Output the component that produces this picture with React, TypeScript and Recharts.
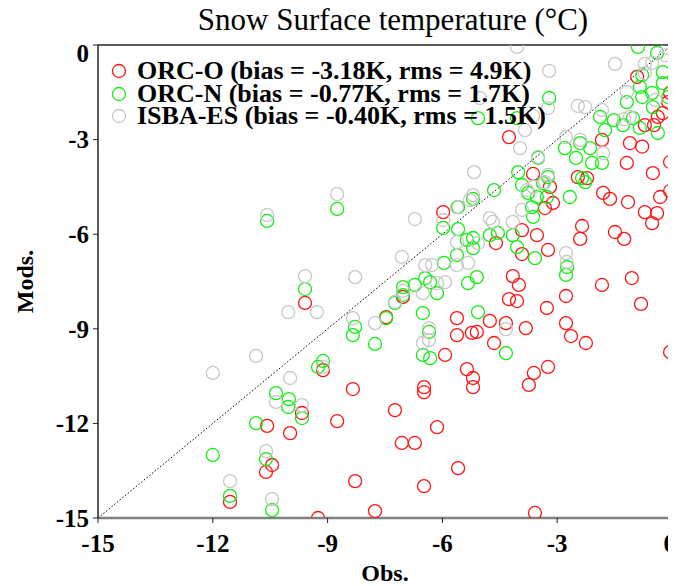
import { ScatterChart, Scatter, XAxis, YAxis, ReferenceLine, Legend } from "recharts";

const FONT = '"Liberation Serif", "Times New Roman", serif';

const axisTicks = [-15, -12, -9, -6, -3, 0];

const seriesNames = [
  "ORC-O (bias = -3.18K, rms = 4.9K)",
  "ORC-N (bias = -0.77K, rms = 1.7K)",
  "ISBA-ES (bias = -0.40K, rms = 1.5K)",
];
const seriesColors = ["#ff1414", "#14ee14", "#c8c8c8"];

// [obs, model] pairs
const orcO: [number, number][] = [
  [-5.98, -5.3], [-9.59, -8.18], [-7.03, -7.99], [-5.62, -8.66], [-5.62, -9.2], [-5.23, -9.13],
  [-5.1, -9.1], [-5.93, -9.83], [-7.47, -8.63], [-9.12, -10.31], [-9.67, -11.67], [-9.98, -12.31],
  [-8.75, -11.93], [-8.34, -10.91], [-7.24, -11.58], [-7.06, -12.62], [-6.72, -12.62], [-6.48, -10.85],
  [-6.48, -11.01], [-6.14, -12.12], [-5.36, -10.28], [-5.2, -10.56], [-5.2, -10.85], [-5.59, -13.42],
  [-8.28, -13.83], [-6.48, -13.99], [-7.76, -14.78], [-9.25, -15.0], [-10.58, -12.08], [-10.45, -13.32],
  [-10.61, -13.54], [-11.55, -14.49], [-4.16, -7.33], [-4.0, -7.61], [-1.83, -7.61], [-1.05, -7.39],
  [-0.81, -8.21], [-4.26, -8.06], [-4.05, -8.12], [-3.27, -8.34], [-2.77, -7.96], [-4.76, -8.75],
  [-4.34, -8.82], [-3.82, -8.98], [-2.77, -8.82], [-2.64, -9.23], [-2.25, -9.45], [-4.65, -9.45],
  [-0.05, -9.74], [-3.61, -10.4], [-3.24, -10.21], [-3.74, -10.78], [-3.58, -14.84], [-0.91, -1.01],
  [-0.05, -1.52], [-0.1, -1.81], [-0.71, -2.54], [-0.37, -2.28], [-0.24, -2.16], [-0.47, -2.54],
  [-4.26, -2.92], [-1.83, -3.01], [-1.1, -3.11], [-0.78, -3.22], [-1.18, -3.74], [-0.5, -4.06],
  [-0.05, -3.71], [-0.05, -4.63], [-3.63, -4.09], [-3.19, -4.5], [-3.11, -5.01], [-3.32, -5.17],
  [-2.46, -4.19], [-2.22, -4.22], [-1.8, -4.69], [-1.62, -4.88], [-1.15, -4.98], [-0.31, -4.82],
  [-0.71, -5.3], [-0.39, -5.33], [-0.52, -5.65], [-2.35, -5.74], [-2.4, -6.15], [-1.49, -5.93],
  [-1.25, -6.15], [-4.6, -6.28], [-3.92, -5.87], [-3.53, -6.03], [-3.92, -6.63], [-3.24, -6.5],
];

const orcN: [number, number][] = [
  [-10.58, -5.58], [-8.75, -5.2], [-5.59, -5.14], [-5.2, -4.88], [-5.98, -5.8], [-5.59, -5.84],
  [-5.36, -6.18], [-5.2, -6.12], [-5.2, -6.44], [-5.62, -6.66], [-5.96, -6.91], [-6.45, -7.39],
  [-5.1, -7.36], [-9.59, -7.74], [-7.03, -7.68], [-6.72, -7.61], [-6.32, -7.52], [-5.33, -7.55],
  [-7.03, -7.93], [-7.24, -8.18], [-6.14, -7.87], [-6.51, -8.5], [-6.35, -9.1], [-6.51, -9.83],
  [-6.32, -9.93], [-8.28, -8.94], [-8.34, -9.2], [-7.47, -8.66], [-7.76, -9.48], [-9.12, -10.02],
  [-9.25, -10.21], [-10.01, -11.23], [-10.03, -11.48], [-9.67, -11.83], [-5.07, -8.47], [-10.35, -11.04],
  [-10.87, -11.99], [-12.0, -13.0], [-10.61, -13.13], [-11.55, -14.3], [-10.45, -14.75], [-2.77, -7.29],
  [-4.34, -9.77], [-0.89, -0.06], [-0.39, -0.25], [-0.78, -0.95], [-0.24, -0.86], [-0.24, -1.21],
  [-0.84, -1.33], [-0.78, -1.65], [-1.18, -1.81], [-0.52, -1.52], [-0.5, -1.97], [-0.1, -1.65],
  [-3.21, -1.68], [-5.07, -2.32], [-4.05, -2.32], [-1.88, -2.28], [-1.52, -2.38], [-1.75, -2.7],
  [-1.28, -2.54], [-1.02, -2.32], [-0.84, -2.63], [-0.37, -2.79], [-2.8, -3.27], [-2.4, -3.11],
  [-2.14, -3.27], [-2.51, -3.58], [-2.09, -3.74], [-1.83, -3.74], [-3.5, -3.58], [-4.02, -4.03],
  [-3.24, -4.19], [-3.37, -4.38], [-3.92, -4.44], [-3.76, -4.69], [-3.53, -4.82], [-3.27, -4.82],
  [-3.66, -5.14], [-3.63, -5.45], [-4.65, -4.6], [-2.67, -4.82], [-2.35, -4.22], [-2.27, -4.35],
  [-4.76, -6.03], [-4.55, -5.96], [-4.16, -6.03], [-4.05, -6.41], [-3.58, -6.76], [-2.74, -7.04],
];

const isbaEs: [number, number][] = [
  [-10.58, -5.39], [-8.75, -4.73], [-6.72, -5.52], [-5.62, -5.14], [-5.2, -4.76], [-5.98, -5.55],
  [-5.62, -6.25], [-5.07, -6.28], [-6.45, -6.98], [-6.27, -6.98], [-5.62, -6.98], [-5.33, -6.91],
  [-7.06, -6.72], [-9.59, -7.33], [-8.28, -7.36], [-10.03, -8.47], [-9.28, -8.47], [-7.03, -7.8],
  [-6.14, -7.55], [-5.93, -7.52], [-7.24, -8.15], [-6.51, -7.87], [-6.35, -8.98], [-6.35, -9.36],
  [-6.51, -9.45], [-8.34, -8.66], [-7.76, -8.82], [-9.12, -10.21], [-9.98, -10.56], [-9.67, -11.42],
  [-10.87, -9.86], [-12.0, -10.4], [-10.35, -11.32], [-10.61, -12.88], [-11.55, -13.83], [-10.45, -14.4],
  [-4.34, -9.01], [-4.05, -0.06], [-1.49, -0.6], [-3.21, -0.82], [-0.71, -0.6], [-0.52, -0.57],
  [-0.71, -0.89], [-1.18, -1.49], [-0.44, -1.74], [-3.24, -2.0], [-3.63, -2.25], [-3.84, -2.7],
  [-3.97, -3.27], [-2.46, -1.93], [-2.27, -1.97], [-1.83, -2.06], [-1.1, -2.28], [-1.25, -2.35],
  [-2.77, -2.92], [-2.4, -3.01], [-1.8, -3.43], [-3.5, -3.55], [-5.17, -4.03], [-3.24, -4.12],
  [-3.32, -4.35], [-3.79, -4.6], [-3.63, -4.5], [-3.92, -5.23], [-5.28, -4.92], [-4.76, -5.49],
  [-4.68, -5.61], [-4.16, -5.61], [-2.77, -6.6], [-2.75, -6.88], [-5.02, -1.68], [-0.1, -0.1],
  [-0.18, -0.32],
];

const toPoints = (pairs: [number, number][]) => pairs.map(([obs, mod]) => ({ obs, mod }));

const ring = (color: string) => (props: any) =>
  <circle cx={props.cx} cy={props.cy} r={6.5} fill="none" stroke={color} strokeWidth={1.3} />;

const LegendBox = () => (
  <div style={{ fontFamily: FONT, fontSize: 26, fontWeight: "bold", color: "#000" }}>
    {seriesNames.map((name, i) => (
      <div key={name} style={{ display: "flex", alignItems: "center", height: 22.5, whiteSpace: "nowrap" }}>
        <svg width={16} height={16} style={{ marginRight: 10, flexShrink: 0 }}>
          <circle cx={8} cy={8} r={6.5} fill="none" stroke={seriesColors[i]} strokeWidth={1.3} />
        </svg>
        <span style={{ lineHeight: "22.5px" }}>{name}</span>
      </div>
    ))}
  </div>
);

const tickStyle = { fill: "#000", fontSize: 25, fontWeight: "bold", fontFamily: FONT };

// the top "0" label sits a little below its tick in the original
const YTick = (props: any) => {
  const { x, y, payload } = props;
  return (
    <text x={x} y={y + (payload.value === 0 ? 8 : 0)} dy="0.355em" textAnchor="end" {...tickStyle}>
      {payload.value}
    </text>
  );
};

export default function App() {
  const sets = [orcO, orcN, isbaEs];
  return (
    <div style={{ position: "relative", width: 668, height: 578, fontFamily: FONT }}>
      <div
        style={{
          position: "absolute", top: -4, left: 185, width: 400, textAlign: "center",
          fontSize: 31, lineHeight: "31px", color: "#000", zIndex: 2, whiteSpace: "nowrap",
        }}
      >
        Snow Surface temperature (°C)
      </div>
      <ScatterChart width={668} height={578} margin={{ top: 33, right: 0, bottom: 0, left: 0 }}>
        <XAxis
          type="number" dataKey="obs" domain={[-15, 0]} ticks={axisTicks} allowDataOverflow
          height={68} tickSize={5} tickMargin={11} tick={tickStyle}
          axisLine={{ stroke: "#808080", strokeWidth: 2.5 }} tickLine={{ stroke: "#222" }}
          label={{ value: "Obs.", position: "insideBottom", offset: 5, style: { fontSize: 24, fontWeight: "bold", fill: "#000", fontFamily: FONT } }}
        />
        <XAxis
          xAxisId="top" orientation="top" type="number" domain={[-15, 0]} ticks={axisTicks} allowDataOverflow
          height={4} tickSize={5} tick={false}
          axisLine={{ stroke: "#222", strokeWidth: 1.5 }} tickLine={{ stroke: "#222" }}
        />
        <YAxis
          type="number" dataKey="mod" domain={[-15, 0]} ticks={axisTicks} allowDataOverflow
          width={90} tickSize={5} tickMargin={4} tick={<YTick />}
          axisLine={{ stroke: "#222", strokeWidth: 1.5 }} tickLine={{ stroke: "#222" }}
          label={{ value: "Mods.", angle: -90, position: "insideLeft", offset: 16, style: { fontSize: 24, fontWeight: "bold", fill: "#000", fontFamily: FONT, textAnchor: "middle" } }}
        />
        <YAxis
          yAxisId="right" orientation="right" type="number" domain={[-15, 0]} ticks={axisTicks} allowDataOverflow
          width={4} tickSize={5} tick={false}
          axisLine={{ stroke: "#808080", strokeWidth: 2.5 }} tickLine={{ stroke: "#222" }}
        />
        <ReferenceLine
          segment={[{ x: -15, y: -15 }, { x: 0, y: 0 }]}
          stroke="#000" strokeWidth={1} strokeDasharray="1.5 2"
        />
        {sets.map((pairs, i) => (
          <Scatter
            key={seriesNames[i]}
            name={seriesNames[i]}
            data={toPoints(pairs)}
            fill={seriesColors[i]}
            shape={ring(seriesColors[i])}
            isAnimationActive={false}
          />
        ))}
        <Legend
          layout="vertical" align="center" verticalAlign="middle"
          content={() => <LegendBox />}
          wrapperStyle={{ position: "absolute", left: 103, top: 52, width: "auto", height: "auto" }}
        />
      </ScatterChart>
    </div>
  );
}
